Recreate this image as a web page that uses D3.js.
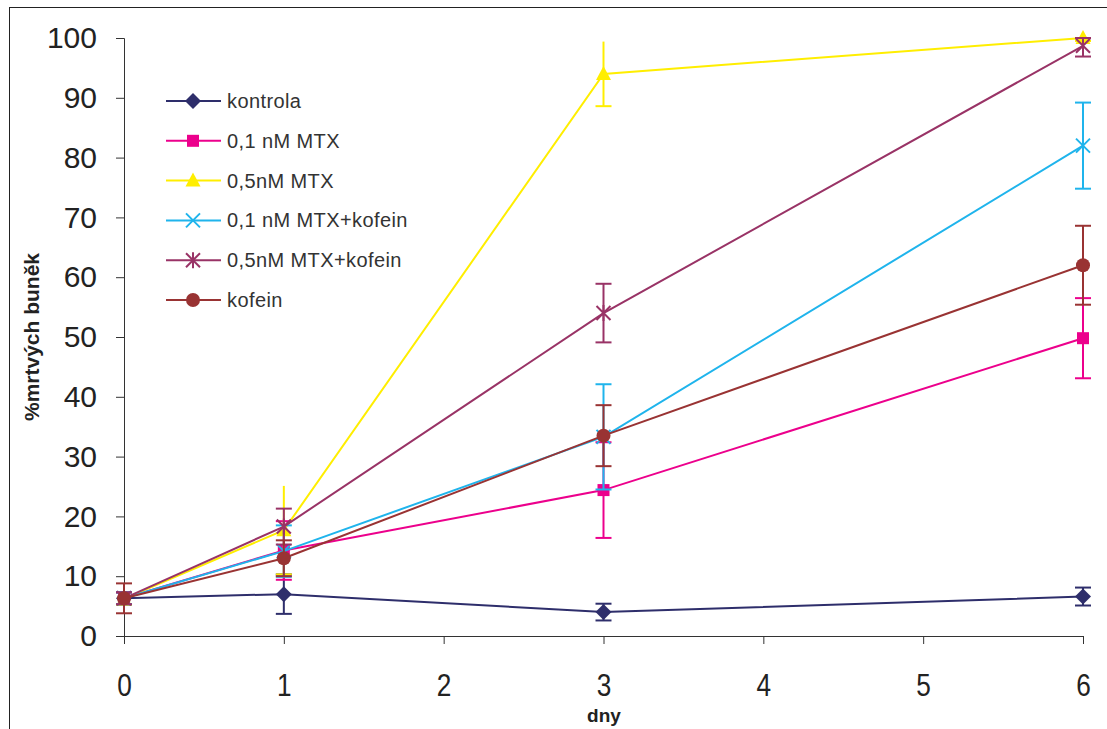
<!DOCTYPE html>
<head>
  <meta charset="utf-8" />
  <script src="https://d3js.org/d3.v7.min.js"></script>
  <style>
    body { margin: 0; background: #fff; }
    text { font-family: "Liberation Sans", Arial, sans-serif; }
  </style>
</head>
<body>
  <script>
    // data
    var days = [0, 1, 3, 6];
    var seriesNames = ["kontrola", "0,1 nM MTX", "0,5nM MTX", "0,1 nM MTX+kofein", "0,5nM MTX+kofein", "kofein"];
    var seriesColors = ["#2e2e6b", "#ec008c", "#ffee00", "#1fb4ec", "#993366", "#993333"];
    var seriesSymbols = ["diamond", "square", "triangle", "x", "star", "circle"];
    var kontrola = [6.3, 7.0, 4.0, 6.6];
    var kontrolaErr = [1.0, 3.3, 1.4, 1.5];
    var mtx01 = [6.3, 14.3, 24.4, 49.8];
    var mtx01Err = [1.0, 4.9, 8.0, 6.7];
    var mtx05 = [6.2, 17.7, 94.0, 100];
    var mtx05Err = [1.0, 7.4, 5.4, 0.5];
    var mtx01kof = [6.3, 14.2, 33.3, 82.0];
    var mtx01kofErr = [1.0, 4.3, 8.8, 7.2];
    var mtx05kof = [6.3, 18.3, 54.0, 98.7];
    var mtx05kofErr = [1.0, 3.0, 4.9, 1.8];
    var kofein = [6.3, 13.0, 33.5, 62.0];
    var kofeinErr = [2.5, 3.0, 5.1, 6.6];
    var yTicks = [0, 10, 20, 30, 40, 50, 60, 70, 80, 90, 100];
    var xTicks = [0, 1, 2, 3, 4, 5, 6];

    var values = [kontrola, mtx01, mtx05, mtx01kof, mtx05kof, kofein];
    var errors = [kontrolaErr, mtx01Err, mtx05Err, mtx01kofErr, mtx05kofErr, kofeinErr];

    var width = 1107, height = 729;
    var svg = d3.select("body").append("svg")
      .attr("width", width).attr("height", height);

    // outer frame
    svg.append("rect").attr("x", 9.5).attr("y", 7.5)
      .attr("width", 1120).attr("height", 760)
      .attr("fill", "none").attr("stroke", "#222").attr("stroke-width", 1);

    var x = d3.scaleLinear().domain([0, 6]).range([124, 1083]);
    var y = d3.scaleLinear().domain([0, 100]).range([636, 38]);

    // y axis
    var yAxis = svg.append("g").attr("transform", "translate(124,0)")
      .call(d3.axisLeft(y).tickValues(yTicks).tickSize(8).tickPadding(19));
    yAxis.select(".domain").attr("stroke", "#333");
    yAxis.selectAll(".tick line").attr("stroke", "#333");
    yAxis.selectAll(".tick text").attr("font-size", 30).attr("fill", "#222")
      .attr("font-family", "Liberation Sans, Arial, sans-serif");

    // x axis
    var xAxis = svg.append("g").attr("transform", "translate(0,636)")
      .call(d3.axisBottom(x).tickValues(xTicks).tickSize(8).tickSizeOuter(0));
    xAxis.select(".domain").attr("stroke", "#333");
    xAxis.selectAll(".tick line").attr("stroke", "#333");
    xAxis.selectAll(".tick text").remove();
    xAxis.selectAll(".tick").append("text")
      .attr("transform", "translate(0,60) scale(0.82,1)")
      .attr("text-anchor", "middle")
      .attr("font-size", 32).attr("fill", "#222")
      .attr("font-family", "Liberation Sans, Arial, sans-serif")
      .text(function (d) { return d; });

    // axis titles
    svg.append("text")
      .attr("transform", "translate(39,337) rotate(-90)")
      .attr("text-anchor", "middle").attr("font-size", 21).attr("font-weight", "bold")
      .attr("fill", "#222").text("%mrtvých buněk");
    svg.append("text")
      .attr("x", 604).attr("y", 722)
      .attr("text-anchor", "middle").attr("font-size", 19).attr("font-weight", "bold")
      .attr("fill", "#222").text("dny");

    function marker(g, type, color, cx, cy) {
      if (type === "diamond") {
        g.append("path").attr("d", "M0,-8L8,0L0,8L-8,0Z")
          .attr("transform", "translate(" + cx + "," + cy + ")").attr("fill", color);
      } else if (type === "square") {
        g.append("rect").attr("x", cx - 6).attr("y", cy - 6).attr("width", 12).attr("height", 12)
          .attr("fill", color);
      } else if (type === "triangle") {
        g.append("path").attr("d", "M0,-8L7.5,6L-7.5,6Z")
          .attr("transform", "translate(" + cx + "," + cy + ")").attr("fill", color);
      } else if (type === "x" || type === "star") {
        g.append("path").attr("d", "M-7,-7L7,7M-7,7L7,-7" + (type === "star" ? "M0,-8L0,8" : ""))
          .attr("transform", "translate(" + cx + "," + cy + ")")
          .attr("stroke", color).attr("stroke-width", 2).attr("fill", "none");
      } else if (type === "circle") {
        g.append("circle").attr("cx", cx).attr("cy", cy).attr("r", 7).attr("fill", color);
      }
    }

    var line = d3.line()
      .x(function (d, i) { return x(days[i]); })
      .y(function (d) { return y(d); });

    var plot = svg.append("g");
    values.forEach(function (vals, s) {
      var g = plot.append("g");
      var color = seriesColors[s];
      // error bars
      vals.forEach(function (v, i) {
        var e = errors[s][i];
        var top = Math.min(v + e, 100);
        var cx = x(days[i]);
        g.append("line").attr("x1", cx).attr("x2", cx)
          .attr("y1", y(v - e)).attr("y2", y(top))
          .attr("stroke", color).attr("stroke-width", 2);
        g.append("line").attr("x1", cx - 8).attr("x2", cx + 8)
          .attr("y1", y(v - e)).attr("y2", y(v - e))
          .attr("stroke", color).attr("stroke-width", 2);
        if (s !== 2) {
          g.append("line").attr("x1", cx - 8).attr("x2", cx + 8)
            .attr("y1", y(top)).attr("y2", y(top))
            .attr("stroke", color).attr("stroke-width", 2);
        }
      });
      g.append("path").datum(vals).attr("d", line)
        .attr("fill", "none").attr("stroke", color).attr("stroke-width", 2);
      vals.forEach(function (v, i) {
        marker(g, seriesSymbols[s], color, x(days[i]), y(v));
      });
    });

    // legend
    var legend = svg.append("g");
    seriesNames.forEach(function (name, i) {
      var ly = 101 + i * 39.8;
      legend.append("line").attr("x1", 166).attr("x2", 221)
        .attr("y1", ly).attr("y2", ly)
        .attr("stroke", seriesColors[i]).attr("stroke-width", 2);
      marker(legend, seriesSymbols[i], seriesColors[i], 193, ly);
      legend.append("text").attr("x", 227).attr("y", ly + 7)
        .attr("font-size", 20).attr("fill", "#333").attr("letter-spacing", 0.4)
        .text(name);
    });
  </script>
</body>
